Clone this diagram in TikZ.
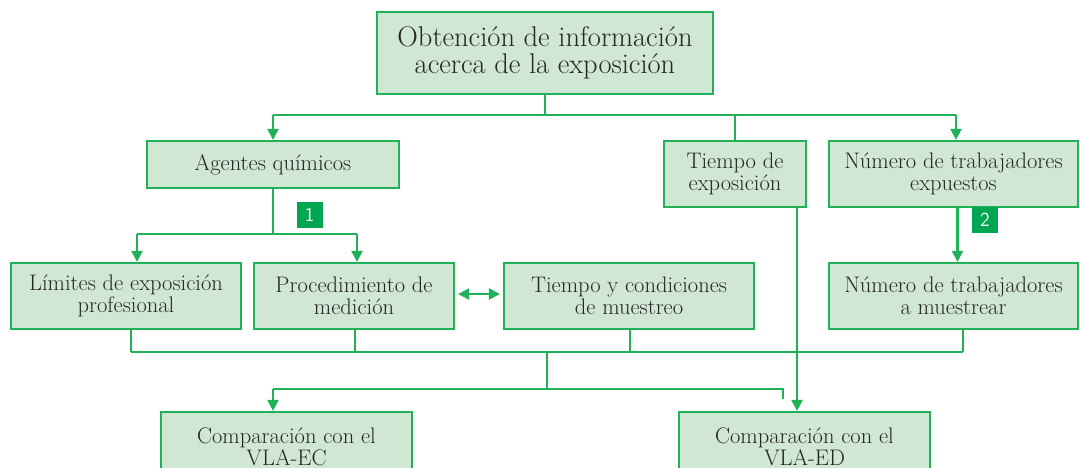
\documentclass[tikz,border=0pt]{standalone}
\usetikzlibrary{arrows.meta}
\definecolor{lgreen}{HTML}{21B159}
\definecolor{bfill}{HTML}{D0E7D3}
\definecolor{badge}{HTML}{00A651}
\definecolor{txt}{HTML}{262626}
\begin{document}
\begin{tikzpicture}[x=1pt,y=-1pt,
  box/.style={draw=lgreen,fill=bfill,line width=2.2pt,rectangle,align=center,inner sep=0pt,
    text=txt,font=\fontsize{22.5}{22}\selectfont},
  conn/.style={draw=lgreen,line width=2.2pt},
  arr/.style={conn,-{Triangle[width=11pt,length=11pt]}},
  darr/.style={conn,{Triangle[width=11pt,length=11pt]}-{Triangle[width=11pt,length=11pt]}},
  badgebox/.style={fill=badge,text=white,inner sep=0pt,minimum width=26pt,minimum height=26pt,
    font=\sffamily\fontsize{20}{20}\selectfont}]
\useasboundingbox (0,0) rectangle (1080,468);
\clip (0,0) rectangle (1080,468);
\node[box,minimum width=336pt,minimum height=82pt,font=\fontsize{28.5}{27}\selectfont] (top) at (545,53) {Obtención de información\\acerca de la exposición};
\node[box,minimum width=252pt,minimum height=47pt] (agentes) at (273,164.5) {Agentes químicos};
\node[box,minimum width=142pt,minimum height=66pt] (tiempoexp) at (735,174) {Tiempo de\\exposición};
\node[box,minimum width=249pt,minimum height=66pt] (numexp) at (953.5,174) {Número de trabajadores\\expuestos};
\node[box,minimum width=230pt,minimum height=66pt] (limites) at (126,296) {Límites de exposición\\profesional};
\node[box,minimum width=200pt,minimum height=66pt] (proc) at (354,296) {Procedimiento de\\medición};
\node[box,minimum width=250pt,minimum height=66pt] (tcond) at (629,296) {Tiempo y condiciones\\de muestreo};
\node[box,minimum width=249pt,minimum height=66pt] (nummu) at (953.5,296) {Número de trabajadores\\a muestrear};
\node[box,minimum width=251pt,minimum height=70pt] (compEC) at (286.5,447) {Comparación con el\\VLA-EC};
\node[box,minimum width=251pt,minimum height=70pt] (compED) at (804.5,447) {Comparación con el\\VLA-ED};
\node[badgebox] (b1) at (309.5,215) {1};
\node[badgebox] (b2) at (985,220) {2};
% coordinates
\coordinate (j1) at (545,115);
\coordinate (j1l) at (273,115);
\coordinate (j1r) at (956,115);
\coordinate (j1m) at (735,115);
\coordinate (j2) at (273,234);
\coordinate (j2l) at (137,234);
\coordinate (j2r) at (357,234);
\coordinate (j3l) at (131,352);
\coordinate (j3r) at (963,352);
\coordinate (j3m) at (547,352);
\coordinate (j4m) at (547,389);
\coordinate (j4l) at (273,389);
\coordinate (j4r) at (783,389);
\coordinate (j4e) at (783,399);
% connectors
\draw[conn] (top.south) -- (j1);
\draw[conn] (j1l) -- (j1r);
\draw[arr] (j1l) -- (agentes.north);
\draw[arr] (j1r) -- (j1r |- numexp.north);
\draw[conn] (j1m) -- (tiempoexp.north);
\draw[conn] (agentes.south) -- (j2);
\draw[conn] (j2l) -- (j2r);
\draw[arr] (j2l) -- (j2l |- limites.north);
\draw[arr] (j2r) -- (j2r |- proc.north);
\draw[arr] (numexp.south -| 957.5,0) -- (nummu.north -| 957.5,0);
\draw[darr,shorten <=3pt,shorten >=3pt] (proc.east |- 0,294) -- (tcond.west |- 0,294);
\draw[conn] (limites.south -| j3l) -- (j3l);
\draw[conn] (proc.south -| 355,0) -- (355,352);
\draw[conn] (tcond.south -| 630,0) -- (630,352);
\draw[conn] (nummu.south -| j3r) -- (j3r);
\draw[conn] (j3l) -- (j3r);
\draw[conn] (j3m) -- (j4m);
\draw[conn] (j4l) -- (j4r) -- (j4e);
\draw[arr] (j4l) -- (j4l |- compEC.north);
\draw[arr] (tiempoexp.south -| 797,0) -- (compED.north -| 797,0);
\end{tikzpicture}
\end{document}
